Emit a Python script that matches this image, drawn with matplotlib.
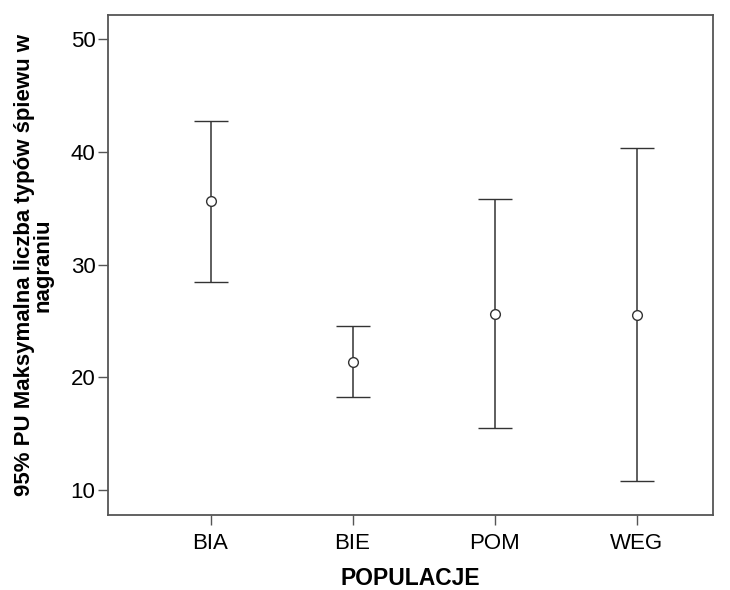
import matplotlib
matplotlib.use("Agg")
import matplotlib.pyplot as plt
import numpy as np

plt.rcParams["font.family"] = ["Liberation Sans", "DejaVu Sans"]

# dane
populacje = ["BIA", "BIE", "POM", "WEG"]
srednia = [35.63, 21.41, 25.67, 25.58]
gorna = [42.80, 24.59, 35.81, 40.34]
dolna = [28.49, 18.26, 15.50, 10.85]

x = np.arange(1, len(populacje) + 1)
srednia = np.array(srednia)
yerr = [srednia - np.array(dolna), np.array(gorna) - srednia]

fig = plt.figure(figsize=(7.3, 5.9), dpi=100)
ax = fig.add_axes([0.148, 0.127, 0.829, 0.848])

ax.errorbar(x, srednia, yerr=yerr, fmt="o", mfc="white", mec="#333333",
            ms=7, mew=1, ecolor="#333333", elinewidth=1.1,
            capsize=12.2, capthick=1.1)

ax.set_xlim(0.278, 4.54)
ax.set_ylim(7.79, 52.19)
ax.set_xticks(x)
ax.set_xticklabels(populacje, fontsize=16)
ax.set_yticks([10, 20, 30, 40, 50])
ax.tick_params(axis="y", labelsize=16, length=7, width=1, color="#555555", pad=2)
ax.tick_params(axis="x", length=7, width=1, color="#555555", pad=6)

for s in ax.spines.values():
    s.set_color("#555555")
    s.set_linewidth(1.3)

ax.set_xlabel("POPULACJE", fontsize=16.5, fontweight="bold", labelpad=9)
ax.set_ylabel("95% PU Maksymalna liczba typów śpiewu w\nnagraniu",
              fontsize=16, fontweight="bold", linespacing=0.9, labelpad=12)

fig.savefig("out.png", dpi=100)
